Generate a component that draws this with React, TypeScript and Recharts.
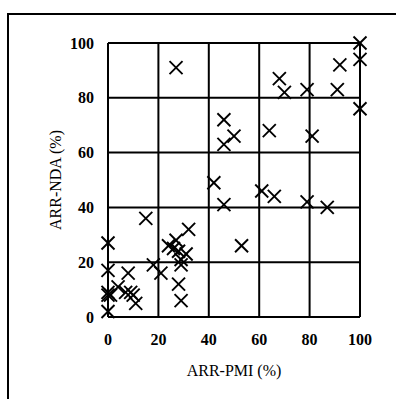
import React from 'react';
import { ScatterChart, Scatter, XAxis, YAxis, CartesianGrid } from 'recharts';

const pmi = [27, 100, 100, 92, 91, 79, 68, 70, 100, 81, 64, 46, 50, 46, 42, 46, 61, 66, 79, 87, 53, 15, 32, 0, 0, 0, 0, 1, 0, 8, 4, 7, 9, 10, 11, 18, 21, 24, 27, 28, 31, 29, 29, 28, 29, 26];
const nda = [91, 100, 94, 92, 83, 83, 87, 82, 76, 66, 68, 72, 66, 63, 49, 41, 46, 44, 42, 40, 26, 36, 32, 27, 17, 9, 8, 8, 2, 16, 11, 9, 9, 8, 5, 19, 16, 26, 28, 24, 23, 21, 19, 12, 6, 25];
const ticks = [0, 20, 40, 60, 80, 100];

const points = pmi.map((x, i) => ({ x, y: nda[i] }));

const Cross = (props: any) => {
  const { cx, cy } = props;
  const s = 6.5;
  return (
    <g stroke="#000" strokeWidth={1.9} strokeLinecap="butt">
      <line x1={cx - s} y1={cy - s} x2={cx + s} y2={cy + s} />
      <line x1={cx - s} y1={cy + s} x2={cx + s} y2={cy - s} />
    </g>
  );
};

const font = '"Liberation Serif", "Times New Roman", serif';

export default function App() {
  return (
    <div style={{ position: 'absolute', left: 0, top: 0, width: 396, height: 399, background: '#fff', overflow: 'hidden' }}>
      <div style={{ position: 'absolute', left: 7, top: 13, width: 400, height: 400, borderLeft: '2px solid #000', borderTop: '2px solid #000' }} />
      <div style={{ position: 'absolute', left: 0, top: 0 }}>
        <ScatterChart width={396} height={399} margin={{ top: 43, right: 36, bottom: 0, left: 2 }}>
          <CartesianGrid stroke="#000" strokeWidth={2} horizontalPoints={undefined} />
          <XAxis
            type="number"
            dataKey="x"
            domain={[0, 100]}
            ticks={ticks}
            axisLine={false}
            tickLine={false}
            tickSize={0}
            tickMargin={17}
            height={82}
            tick={{ fill: '#000', fontFamily: font, fontSize: 16, fontWeight: 'bold' }}
            label={{ value: 'ARR-PMI (%)', position: 'insideBottom', offset: 23, fill: '#000', fontFamily: font, fontSize: 16 }}
          />
          <YAxis
            type="number"
            dataKey="y"
            domain={[0, 100]}
            ticks={ticks}
            axisLine={false}
            tickLine={false}
            tickSize={0}
            tickMargin={14}
            width={106}
            tick={{ fill: '#000', fontFamily: font, fontSize: 16, fontWeight: 'bold' }}
            label={{ value: 'ARR-NDA (%)', position: 'center', angle: -90, fill: '#000', fontFamily: font, fontSize: 16 }}
          />
          <Scatter data={points} shape={Cross} isAnimationActive={false} />
        </ScatterChart>
      </div>
    </div>
  );
}
